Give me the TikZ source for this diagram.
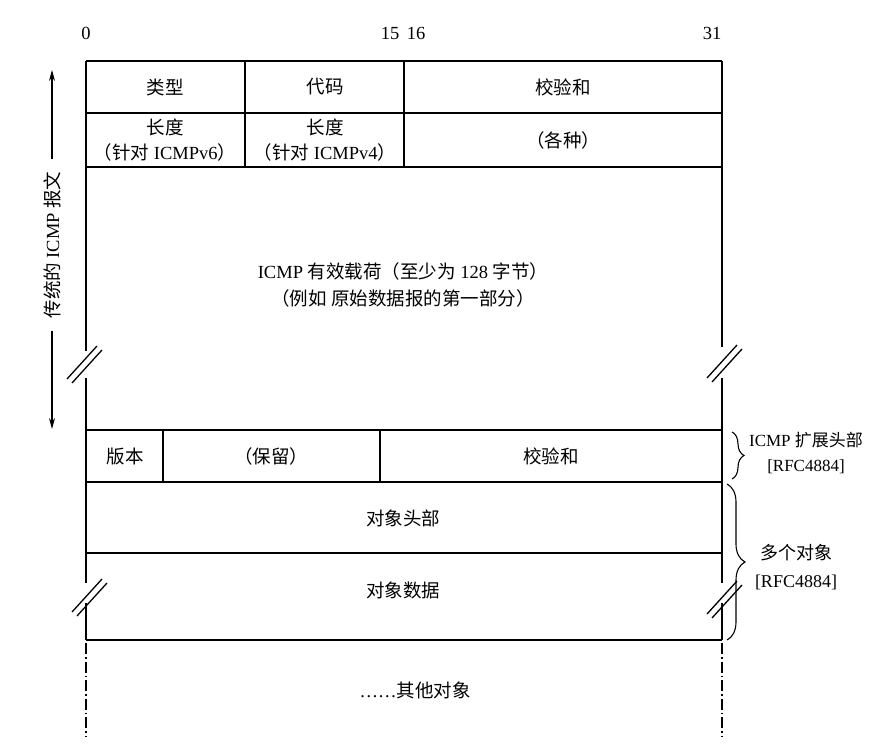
\documentclass[tikz,border=0pt]{standalone}
\usepackage{fontspec}
\setmainfont{Liberation Serif}
\newfontfamily\cjk{Noto Sans CJK SC}
\usetikzlibrary{arrows.meta,decorations.pathreplacing}

\tikzset{
  campo/.style={font=\fontsize{18.5}{25}\selectfont, inner sep=0pt, align=center},
  bordo/.style={line width=1.6pt},
  spezzato/.style={line width=1.3pt, dash pattern=on 11pt off 3pt on 1.5pt off 3pt},
  graffa/.style={decorate, decoration={brace, amplitude=#1}, line width=1.1pt},
  taglio/.style={line width=1.3pt},
}
% doppia barra di interruzione centrata in (#1,#2)
\newcommand{\interruzione}[2]{%
  \draw[taglio, shift={(#1,#2)}] (-17,15) -- (13,-18) (-12,19) -- (18,-14);
}

\begin{document}
\begin{tikzpicture}[x=1pt, y=-1pt]
    \useasboundingbox (0,0) rectangle (894,751);

    % 1. Numeri dei bit in alto
    \node[campo] (bit0) at (86,33) {0};
    \node[campo] (bit15) at (390,33) {15};
    \node[campo] (bit16) at (416,33) {16};
    \node[campo] (bit31) at (712,33) {31};

    % 2. Linee orizzontali
    \draw[bordo] (86,61) -- (722,61);
    \draw[bordo] (86,113) -- (722,113);
    \draw[bordo] (86,167) -- (722,167);
    \draw[bordo] (86,430) -- (722,430);
    \draw[bordo] (86,482) -- (722,482);
    \draw[bordo] (86,553) -- (722,553);
    \draw[bordo] (86,640) -- (722,640);

    % 3. Divisori verticali interni
    \draw[bordo] (245,61) -- (245,167);
    \draw[bordo] (404,61) -- (404,167);
    \draw[bordo] (163,430) -- (163,482);
    \draw[bordo] (380,430) -- (380,482);

    % 4. Bordi laterali interrotti
    \draw[bordo] (86,61) -- (86,351);
    \draw[bordo] (86,378) -- (86,583);
    \draw[bordo] (86,603) -- (86,640);
    \draw[bordo] (722,61) -- (722,347);
    \draw[bordo] (722,378) -- (722,583);
    \draw[bordo] (722,603) -- (722,640);
    \interruzione{84}{364}
    \interruzione{724}{363}
    \interruzione{89}{597}
    \interruzione{724}{599}

    % 5. Prosecuzione tratto-punto
    \draw[spezzato] (86,643) -- (86,737);
    \draw[spezzato] (722,643) -- (722,737);

    % 6. Testi dei campi
    \node[campo] (tipo) at (165,87) {\cjk 类型};
    \node[campo] (codice) at (325,87) {\cjk 代码};
    \node[campo] (somma) at (563,87) {\cjk 校验和};
    \node[campo] (lungsei) at (165,140) {{\cjk 长度}\\{\cjk （针对} ICMPv6{\cjk ）}};
    \node[campo] (lungquattro) at (325,140) {{\cjk 长度}\\{\cjk （针对} ICMPv4{\cjk ）}};
    \node[campo] (vari) at (563,140) {\cjk （各种）};
    \node[campo, font=\fontsize{18.5}{27}\selectfont] (carico) at (403,285)
        {ICMP {\cjk 有效载荷（至少为} 128 {\cjk 字节）}\\{\cjk （例如 原始数据报的第一部分）}};
    \node[campo] (versione) at (125,456) {\cjk 版本};
    \node[campo] (riservato) at (271,456) {\cjk （保留）};
    \node[campo] (sommaest) at (551,456) {\cjk 校验和};
    \node[campo] (testata) at (403,518) {\cjk 对象头部};
    \node[campo] (dati) at (403,590) {\cjk 对象数据};
    \node[campo] (altri) at (415,690) {……{\cjk 其他对象}};

    % 7. Freccia laterale
    \node[campo, rotate=90, inner xsep=12pt] (classico) at (52,245) {{\cjk 传统的} ICMP {\cjk 报文}};
    \coordinate (su) at (52,70);
    \coordinate (giu) at (52,429);
    \draw[line width=1.1pt, -{Stealth[length=11pt,width=6pt]}] (classico.east) -- (su);
    \draw[line width=1.1pt, -{Stealth[length=11pt,width=6pt]}] (classico.west) -- (giu);

    % 8. Graffe a destra
    \draw[graffa=12pt] (732,432) -- (732,479);
    \node[campo, font=\fontsize{17}{25}\selectfont] (estensione) at (806,453) {ICMP {\cjk 扩展头部}\\{[RFC4884]}};
    \draw[graffa=18pt] (727,484) -- (727,640);
    \node[campo, font=\fontsize{18}{28}\selectfont] (oggetti) at (796,567) {{\cjk 多个对象}\\{[RFC4884]}};

\end{tikzpicture}
\end{document}
